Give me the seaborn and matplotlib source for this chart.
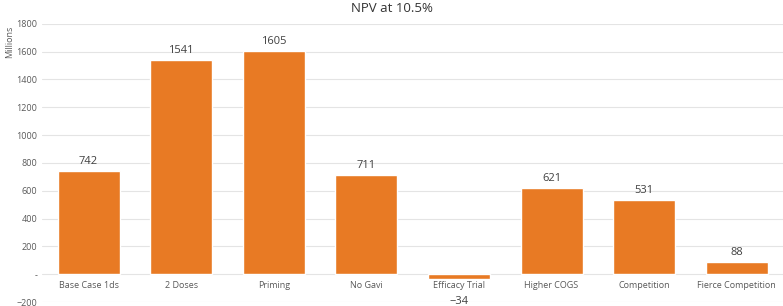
import numpy as np
import pandas as pd
import seaborn as sns
import matplotlib.pyplot as plt
from matplotlib.ticker import FuncFormatter

# datos
escenarios = ["Base Case 1ds", "2 Doses", "Priming", "No Gavi", "Efficacy Trial",
              "Higher COGS", "Competition", "Fierce Competition"]
npv = [742, 1541, 1605, 711, -34, 621, 531, 88]

df = pd.DataFrame({"escenario": escenarios, "npv": npv})

sns.set_style("white")
plt.rcParams['font.family'] = ['Open Sans', 'DejaVu Sans']

fig = plt.figure(figsize=(7.83, 3.06), dpi=100)
ax = fig.add_axes([0.054, 0.013, 0.946, 0.909])

sns.barplot(data=df, x="escenario", y="npv", color="#E87A24", width=0.67,
            saturation=1, ax=ax, zorder=3)

ax.set_ylim(-200, 1800)
ax.set_yticks(np.arange(-200, 1801, 200))
ax.yaxis.set_major_formatter(FuncFormatter(lambda v, p: "-" if v == 0 else ("\u2212" + str(int(-v)) if v < 0 else str(int(v)))))
ax.grid(axis="y", color="#e4e4e4", linewidth=0.8, zorder=0)
ax.set_axisbelow(True)

for s in ax.spines.values():
    s.set_visible(False)
ax.spines['bottom'].set_position(('data', 0))
ax.tick_params(axis="both", length=0, labelsize=6.5, colors="#595959")
ax.tick_params(axis="x", pad=5)
ax.set_xlabel("")
ax.set_ylabel("Millions", fontsize=6.5, color="#595959")
ax.yaxis.set_label_coords(-0.038, 0.935)

for i, v in enumerate(npv):
    if v >= 0:
        ax.text(i, v + 28, str(v), ha="center", va="bottom", fontsize=8, color="#404040")
    else:
        ax.text(i, v - 125, "\u2212" + str(-v), ha="center", va="top", fontsize=8, color="#404040")

fig.suptitle("NPV at 10.5%", y=0.995, fontsize=9.5, color="#333333")

plt.savefig("out.png", dpi=100)
plt.close()
